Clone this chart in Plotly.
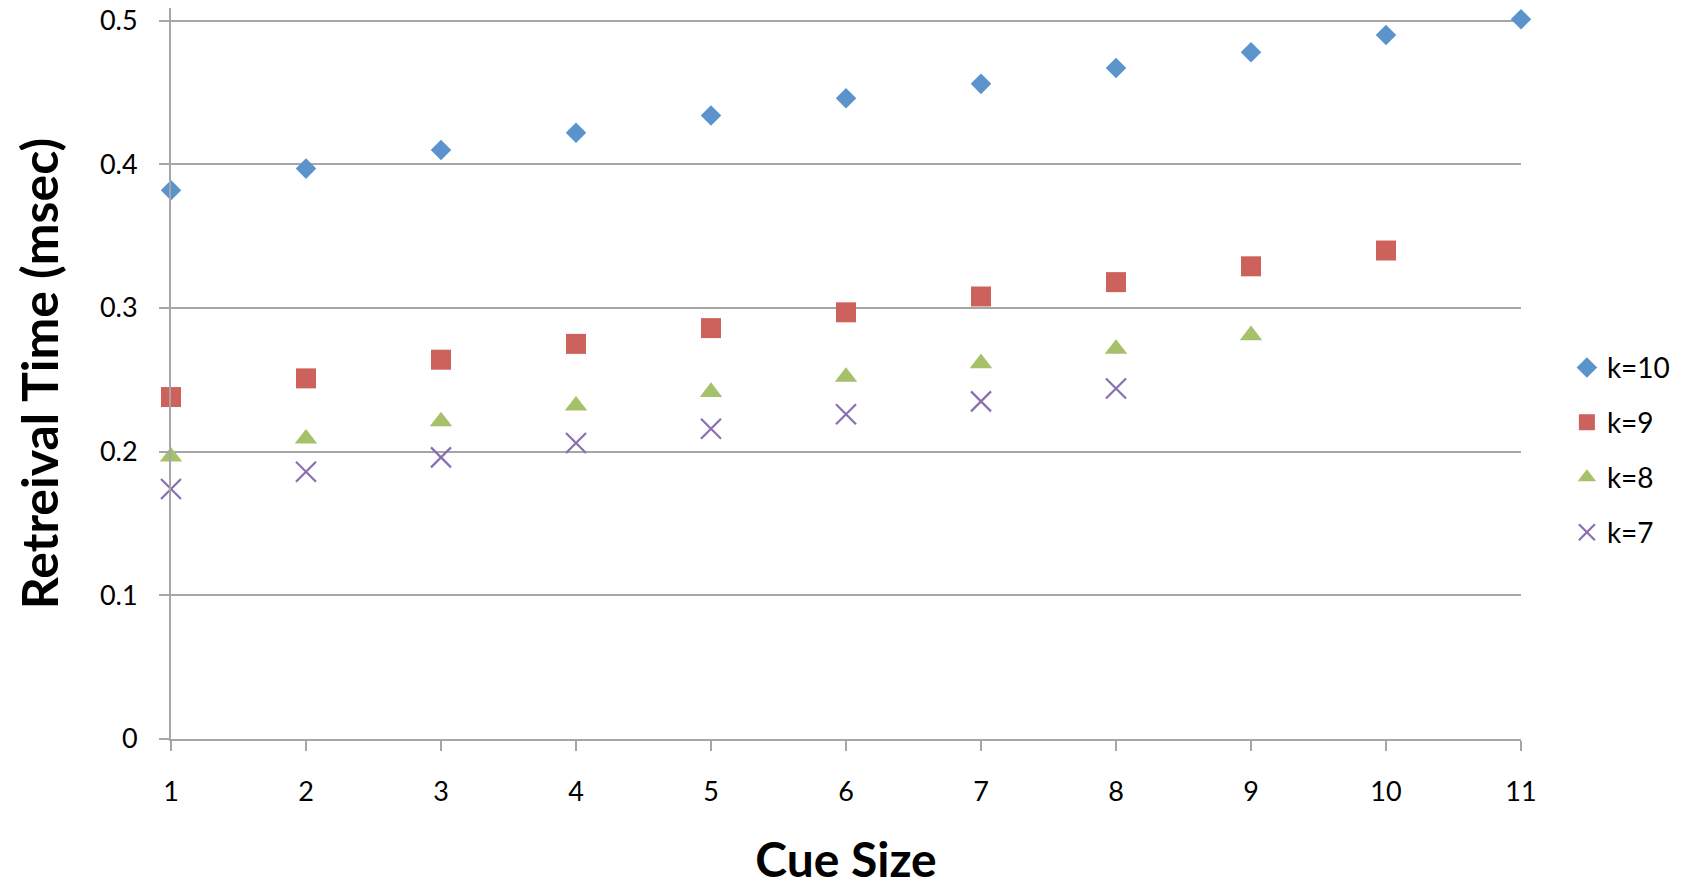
import plotly.graph_objects as go

cue_size = [1, 2, 3, 4, 5, 6, 7, 8, 9, 10, 11]
k10 = [0.382, 0.397, 0.410, 0.422, 0.434, 0.446, 0.456, 0.467, 0.478, 0.490, 0.501]
k9 = [0.238, 0.251, 0.264, 0.275, 0.286, 0.297, 0.308, 0.318, 0.329, 0.340]
k8 = [0.1965, 0.209, 0.221, 0.232, 0.2415, 0.252, 0.2615, 0.2715, 0.281]
k7 = [0.174, 0.186, 0.196, 0.206, 0.216, 0.226, 0.235, 0.244]

x_ticks = [1, 2, 3, 4, 5, 6, 7, 8, 9, 10, 11]
y_ticks = [0, 0.1, 0.2, 0.3, 0.4, 0.5]
y_tick_labels = ["0", "0.1", "0.2", "0.3", "0.4", "0.5"]

FONT = "Lato"
GRID = "#A6A6A6"

fig = go.Figure()
series = [
    ("k=10", k10, dict(symbol="diamond", size=15.8, color="#5B93CC")),
    ("k=9", k9, dict(symbol="square", size=20, color="#CD625D")),
    ("k=8", k8, dict(symbol="triangle-up", size=19.5, color="#A5C16A")),
    ("k=7", k7, dict(symbol="x-thin", size=20, color="#8A6FB0",
                     line=dict(color="#8A6FB0", width=2.2))),
]
for name, vals, mk in series:
    if mk["symbol"] != "x-thin":
        mk["line"] = dict(width=0)
    fig.add_trace(go.Scatter(
        x=cue_size[:len(vals)], y=vals, mode="markers", name=name,
        marker=mk, cliponaxis=False, legendgroup=name,
    ))

fig.update_layout(
    width=1682, height=887,
    margin=dict(l=171, r=161, t=8, b=148, pad=0, autoexpand=False),
    paper_bgcolor="white", plot_bgcolor="white",
    font=dict(family=FONT, size=27, color="black"),
    showlegend=True,
    legend=dict(
        x=1.034, xanchor="left", y=0.395, yanchor="middle",
        font=dict(family=FONT, size=28, color="black"),
        traceorder="grouped", tracegroupgap=15.5,
        bgcolor="rgba(0,0,0,0)",
    ),
    xaxis=dict(
        range=[1, 11], tickmode="array", tickvals=x_ticks,
        ticktext=[str(v) for v in x_ticks],
        showgrid=False, zeroline=False, automargin=False,
        showline=True, linecolor=GRID, linewidth=2,
        ticks="outside", ticklen=10, tickwidth=2, tickcolor=GRID,
        ticklabelstandoff=18,
        tickfont=dict(family=FONT, size=27, color="black"),
        title=dict(text="<b>Cue Size</b>", standoff=41,
                   font=dict(family=FONT, size=48, color="black")),
    ),
    yaxis=dict(
        range=[0, 0.5088], tickmode="array", tickvals=y_ticks,
        ticktext=y_tick_labels,
        showgrid=True, gridcolor=GRID, gridwidth=2, zeroline=False,
        automargin=False,
        showline=True, linecolor=GRID, linewidth=2,
        ticks="outside", ticklen=10, tickwidth=2, tickcolor=GRID,
        ticklabelstandoff=16,
        tickfont=dict(family=FONT, size=27, color="black"),
        title=dict(text="<b>Retreival Time (msec)</b>", standoff=25.5,
                   font=dict(family=FONT, size=50, color="black")),
    ),
)

fig.write_html("out.html")
